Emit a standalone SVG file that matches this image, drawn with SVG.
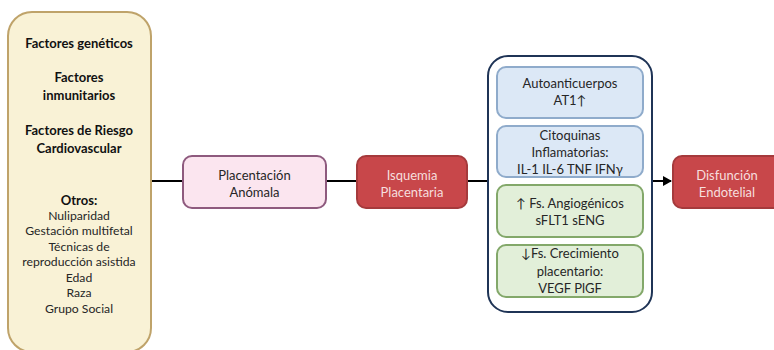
<svg xmlns="http://www.w3.org/2000/svg" width="774" height="350" viewBox="0 0 774 350">
<style>
text{font-family:Lato,"Liberation Sans",sans-serif;fill:#262626;text-anchor:middle;font-size:12.2px}
.b{font-weight:bold;font-size:13px;fill:#111}
.w{fill:#f6dede;font-size:13px}
.m{font-size:13px}
.line{stroke:#000;stroke-width:2;fill:none}
</style>
<defs>
<marker id="arr" markerWidth="10" markerHeight="10" refX="8" refY="5" orient="auto" markerUnits="userSpaceOnUse">
<path d="M0,0 L9,5 L0,10 z" fill="#000"/>
</marker>
</defs>
<g id="connectors">
<line class="line" x1="151" y1="181" x2="183" y2="181"/>
<line class="line" x1="326" y1="181" x2="357" y2="181"/>
<line class="line" x1="467" y1="181" x2="488" y2="181"/>
<line class="line" x1="652" y1="181" x2="671" y2="181" marker-end="url(#arr)"/>
</g>
<g id="factores">
<rect x="8" y="12" width="143" height="340" rx="24" fill="#f9f2d6" stroke="#bfa36a" stroke-width="2"/>
<text class="b" x="79" y="48">Factores genéticos</text>
<text class="b" x="79" y="82">Factores</text>
<text class="b" x="79" y="100">inmunitarios</text>
<text class="b" x="79" y="135">Factores de Riesgo</text>
<text class="b" x="79" y="153">Cardiovascular</text>
<text class="b" x="79" y="205">Otros:</text>
<text x="79" y="219.5">Nuliparidad</text>
<text x="79" y="235">Gestación multifetal</text>
<text x="79" y="250.5">Técnicas de</text>
<text x="79" y="266">reproducción asistida</text>
<text x="79" y="281.5">Edad</text>
<text x="79" y="297">Raza</text>
<text x="79" y="312.5">Grupo Social</text>
</g>
<g id="placentacion">
<rect x="183" y="156" width="143" height="52" rx="9" fill="#fbe5ef" stroke="#8e5a7e" stroke-width="2"/>
<text class="m" x="254.5" y="179.5">Placentación</text>
<text class="m" x="254.5" y="196.5">Anómala</text>
</g>
<g id="isquemia">
<rect x="357" y="156" width="110" height="52" rx="9" fill="#c8474a" stroke="#a53a3c" stroke-width="2"/>
<text class="w" x="412" y="179.5">Isquemia</text>
<text class="w" x="412" y="196.5">Placentaria</text>
</g>
<g id="mediadores">
<rect x="488" y="56" width="164" height="256" rx="20" fill="#fff" stroke="#1f3456" stroke-width="2"/>
</g>
<g id="autoanticuerpos">
<rect x="497" y="67" width="146" height="51" rx="9" fill="#dce8f6" stroke="#8fabcb" stroke-width="2"/>
<text class="m" x="570" y="88">Autoanticuerpos</text>
<text class="m" x="570" y="105">AT1↑</text>
</g>
<g id="citoquinas">
<rect x="497" y="126" width="146" height="51" rx="9" fill="#dce8f6" stroke="#8fabcb" stroke-width="2"/>
<text class="m" x="570" y="139.5">Citoquinas</text>
<text class="m" x="570" y="156.5">Inflamatorias:</text>
<text class="m" x="570" y="173.5">IL-1 IL-6 TNF IFNγ</text>
</g>
<g id="angiogenicos">
<rect x="497" y="185" width="146" height="52" rx="9" fill="#e2efd9" stroke="#83a86a" stroke-width="2"/>
<text class="m" x="570" y="207.5">↑ Fs. Angiogénicos</text>
<text class="m" x="570" y="224.5">sFLT1 sENG</text>
</g>
<g id="crecimiento">
<rect x="497" y="245" width="146" height="52" rx="9" fill="#e2efd9" stroke="#83a86a" stroke-width="2"/>
<text class="m" x="570" y="257.5">↓Fs. Crecimiento</text>
<text class="m" x="570" y="275.5">placentario:</text>
<text class="m" x="570" y="292.5">VEGF PlGF</text>
</g>
<g id="disfuncion">
<rect x="673" y="156" width="120" height="52" rx="9" fill="#c8474a" stroke="#a53a3c" stroke-width="2"/>
<text class="w" x="727" y="179.5">Disfunción</text>
<text class="w" x="727" y="196.5">Endotelial</text>
</g>
</svg>
